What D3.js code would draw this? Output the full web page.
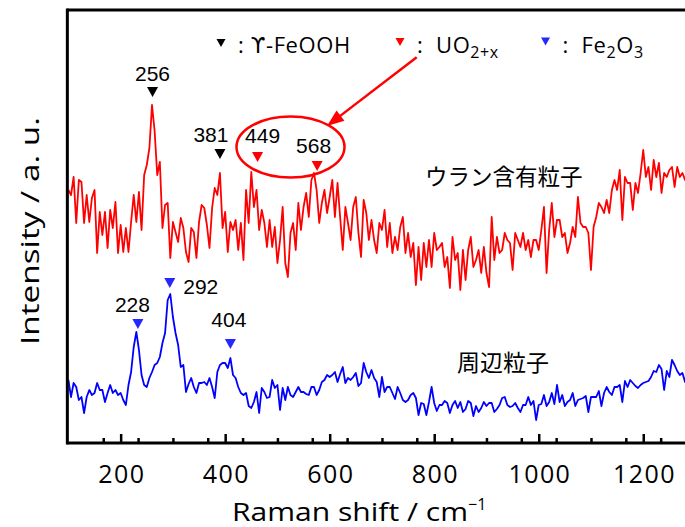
<!DOCTYPE html>
<html>
<head>
<meta charset="utf-8">
<script src="https://cdn.jsdelivr.net/npm/d3@7"></script>
<style>
  html, body { margin: 0; padding: 0; background: #fff; overflow: hidden; }
  svg { display: block; }
</style>
</head>
<body>
<svg id="chart" width="685" height="527"></svg>
<script>
// Raman shift grid (cm-1)
const shifts = [
  100,105,110,115,120,125,130,135,140,145,150,155,160,165,170,175,180,185,190,195,
  200,205,210,215,220,225,230,235,240,245,250,255,260,265,270,275,280,285,290,295,
  300,305,310,315,320,325,330,335,340,345,350,355,360,365,370,375,380,385,390,395,
  400,405,410,415,420,425,430,435,440,445,450,455,460,465,470,475,480,485,490,495,
  500,505,510,515,520,525,530,535,540,545,550,555,560,565,570,575,580,585,590,595,
  600,605,610,615,620,625,630,635,640,645,650,655,660,665,670,675,680,685,690,695,
  700,705,710,715,720,725,730,735,740,745,750,755,760,765,770,775,780,785,790,795,
  800,805,810,815,820,825,830,835,840,845,850,855,860,865,870,875,880,885,890,895,
  900,905,910,915,920,925,930,935,940,945,950,955,960,965,970,975,980,985,990,995,
  1000,1005,1010,1015,1020,1025,1030,1035,1040,1045,1050,1055,1060,1065,1070,1075,1080,1085,1090,1095,
  1100,1105,1110,1115,1120,1125,1130,1135,1140,1145,1150,1155,1160,1165,1170,1175,1180,1185,1190,1195,
  1200,1205,1210,1215,1220,1225,1230,1235,1240,1245,1250,1255,1260,1265,1270,1275,1280,1285
];

// ウラン含有粒子 (uranium-bearing particle), a.u.
const uraniumParticle = [
  253,248,266,220,263,261,220,248,221,245,
  253,190,231,208,231,195,233,215,241,190,
  218,191,215,191,221,248,221,251,213,268,
  278,295,338,312,268,281,215,238,240,185,
  221,211,201,225,215,191,181,215,211,185,
  221,238,235,218,195,235,255,248,270,215,
  231,191,221,213,223,193,220,183,253,220,
  271,236,253,213,233,220,196,223,196,216,
  180,203,236,180,166,210,220,193,240,213,
  236,250,226,263,270,253,220,240,253,230,
  246,263,226,260,226,193,236,220,203,236,
  246,210,186,243,230,203,223,203,190,220,
  213,233,196,220,190,206,193,216,226,190,
  210,186,200,158,196,163,200,176,203,176,
  210,193,196,200,176,186,155,206,183,190,
  153,193,163,193,206,176,183,193,170,196,
  170,156,226,183,206,190,193,210,203,200,
  173,210,203,196,210,193,203,186,203,203,
  193,213,236,170,213,240,206,223,223,206,
  210,190,200,216,206,246,220,216,216,210,
  173,216,226,240,236,230,243,230,253,263,
  253,273,223,266,260,260,233,260,250,270,
  293,266,276,253,283,266,280,250,270,266,
  273,276,256,276,266,270,263,266
];

// 周辺粒子 (surrounding particle), a.u.
const surroundingParticle = [
  63,46,60,56,43,46,30,46,53,48,
  50,60,53,53,41,50,58,50,53,48,
  50,43,38,58,71,96,111,93,68,58,
  56,65,71,78,80,86,100,110,143,149,
  126,110,98,76,78,51,59,65,56,50,
  60,60,61,58,65,56,45,71,78,80,
  80,75,85,68,65,56,50,48,50,37,
  35,41,51,30,55,51,45,46,63,55,
  58,33,55,43,56,48,46,51,56,51,
  51,49,48,56,56,48,53,61,63,68,
  66,68,71,61,69,76,60,65,63,66,
  70,57,60,80,71,65,73,65,61,46,
  66,51,56,56,50,44,56,50,43,41,
  43,48,50,45,28,40,39,28,41,56,
  40,32,38,38,42,40,30,38,42,35,
  41,31,34,42,40,27,37,31,35,41,
  37,40,40,31,34,38,45,46,38,36,
  37,40,35,31,38,38,46,38,42,23,
  38,39,48,37,41,50,39,58,41,48,
  37,41,43,50,37,43,44,45,47,31,
  46,46,46,52,37,50,56,51,48,56,
  56,58,41,62,56,63,60,57,55,58,
  60,61,62,66,72,71,78,74,53,72,
  66,83,78,72,68,70,61,73
];

const majorTicks = [200, 400, 600, 800, 1000, 1200];

// peak markers
const peakLabels  = ['256', '381', '449', '568', '228', '292', '404'];
const peakShifts  = [261, 390, 462, 576, 233, 294, 410];
const peakHeights = [351, 289, 286, 277, 119, 160, 99];
const peakPhases  = ['feooh', 'feooh', 'uo2', 'uo2', 'fe2o3', 'fe2o3', 'fe2o3'];

const phaseColor = { feooh: '#000000', uo2: '#ff0000', fe2o3: '#2626ff' };
// label offsets from marker centre
const labelDx = [0, -9, 5, -3.5, -5.5, 31, -1.5];
const labelDy = [-11, -12, -14, -13, -12, 11, -17];

const svg = d3.select('#chart');
const W = 685, H = 527;
const plotTop = 10, plotBottom = 443;

const x = d3.scaleLinear().domain([98, 1300]).range([67.35, 695.5]);
const y = d3.scaleLinear().domain([0, 433]).range([plotBottom, plotTop]);

const latin = '"Open Sans", "DejaVu Sans", sans-serif';
const cjk = '"Noto Sans CJK JP", sans-serif';

// spectra
const line = d3.line().x(d => x(d[0])).y(d => y(d[1]));
svg.append('path')
  .datum(d3.zip(shifts, uraniumParticle))
  .attr('d', line)
  .attr('fill', 'none')
  .attr('stroke', '#ff0000')
  .attr('stroke-width', 1.8)
  .attr('stroke-linejoin', 'round');

svg.append('path')
  .datum(d3.zip(shifts, surroundingParticle))
  .attr('d', line)
  .attr('fill', 'none')
  .attr('stroke', '#0000ff')
  .attr('stroke-width', 1.8)
  .attr('stroke-linejoin', 'round');

// x axis, ticks inside
const minorTicks = d3.range(100, 1300, 200 / 3).filter(v => v > 101 && Math.abs(v % 200) > 1 && Math.abs(v % 200 - 200) > 1);

svg.append('g')
  .attr('transform', `translate(0,${plotBottom})`)
  .call(d3.axisBottom(x).tickValues(minorTicks).tickSize(-5).tickFormat(''))
  .call(g => g.select('.domain').remove())
  .call(g => g.selectAll('line').attr('stroke', '#000').attr('stroke-width', 2.5));

svg.append('g')
  .attr('transform', `translate(0,${plotBottom})`)
  .call(d3.axisBottom(x).tickValues(majorTicks).tickSize(-9).tickPadding(22).tickFormat(d3.format('d')))
  .call(g => g.select('.domain').remove())
  .call(g => g.selectAll('line').attr('stroke', '#000').attr('stroke-width', 2.5))
  .call(g => g.selectAll('text')
    .attr('fill', '#000')
    .attr('dx', 0.7)
    .style('font-family', latin)
    .style('font-size', '25px')
    .style('letter-spacing', '1.4px'));

// frame
const frame = svg.append('g').attr('stroke', '#000').attr('stroke-width', 3).attr('fill', 'none');
frame.append('line').attr('x1', x(98)).attr('x2', x(98)).attr('y1', plotTop - 1.5).attr('y2', plotBottom + 1.5);
frame.append('line').attr('x1', x(98)).attr('x2', W + 10).attr('y1', plotTop).attr('y2', plotTop);
frame.append('line').attr('x1', x(98)).attr('x2', W + 10).attr('y1', plotBottom).attr('y2', plotBottom);

// axis titles
const xt = svg.append('text')
  .attr('x', 232).attr('y', 521)
  .attr('fill', '#000')
  .style('font-family', latin)
  .style('font-size', '25px');
xt.append('tspan').attr('textLength', 236).attr('lengthAdjust', 'spacingAndGlyphs').text('Raman shift / cm');
xt.append('tspan').attr('dy', -11).style('font-size', '16px').text('\u22121');

svg.append('text')
  .attr('transform', 'translate(39,231) rotate(-90)')
  .attr('text-anchor', 'middle')
  .attr('textLength', 228).attr('lengthAdjust', 'spacingAndGlyphs')
  .attr('fill', '#000')
  .style('font-family', latin)
  .style('font-size', '25px')
  .text('Intensity / a. u.');

// peak markers and labels
const tri = (w, h) => `M${-w / 2},${-h / 2}L${w / 2},${-h / 2}L0,${h / 2}Z`;
const peaks = d3.range(peakLabels.length);
svg.append('g').selectAll('path')
  .data(peaks).join('path')
  .attr('transform', i => `translate(${x(peakShifts[i])},${y(peakHeights[i])})`)
  .attr('d', tri(11, 10))
  .attr('fill', i => phaseColor[peakPhases[i]]);

svg.append('g').selectAll('text')
  .data(peaks).join('text')
  .attr('x', i => x(peakShifts[i]) + labelDx[i])
  .attr('y', i => y(peakHeights[i]) + labelDy[i])
  .attr('text-anchor', 'middle')
  .attr('fill', '#000')
  .style('font-family', '"Liberation Sans", Arial, sans-serif')
  .style('font-size', '21px')
  .text(i => peakLabels[i]);

// legend: [text, subscript?, font]
const legend = [
  { key: 'feooh', tx: 221, ty: 43, parts: [[': ', 0], ['\u03D2', 0, '"DejaVu Sans", sans-serif'], ['-FeOOH', 0]] },
  { key: 'uo2', tx: 400, ty: 42, parts: [[':  UO', 0], ['2+x', 1]] },
  { key: 'fe2o3', tx: 545.5, ty: 41.5, parts: [[':  Fe', 0], ['2', 1], ['O', 0], ['3', 1]] }
];
legend.forEach(item => {
  svg.append('path')
    .attr('transform', `translate(${item.tx},${item.ty})`)
    .attr('d', tri(9, 8))
    .attr('fill', phaseColor[item.key]);
  const t = svg.append('text')
    .attr('x', item.tx + 17).attr('y', 53.3)
    .attr('fill', '#000')
    .attr('xml:space', 'preserve')
    .style('white-space', 'pre')
    .style('font-family', latin)
    .style('font-size', '22px')
    .style('letter-spacing', '0.6px');
  let sub = 0;
  item.parts.forEach(([s, isSub, font]) => {
    const dy = isSub ? (sub ? 0 : 5) : (sub ? -5 : 0);
    sub = isSub;
    const ts = t.append('tspan').attr('dy', dy).style('font-size', isSub ? '16px' : '22px').text(s);
    if (font) ts.style('font-family', font).style('font-size', '21px');
  });
});

// sample names
svg.append('text')
  .attr('x', 425).attr('y', 185)
  .attr('fill', '#000')
  .style('font-family', cjk)
  .style('font-size', '22.5px')
  .text('ウラン含有粒子');

svg.append('text')
  .attr('x', 457).attr('y', 371)
  .attr('fill', '#000')
  .style('font-family', cjk)
  .style('font-size', '23px')
  .text('周辺粒子');

// highlight ellipse around UO2+x peaks with arrow from the legend
svg.append('ellipse')
  .attr('cx', x(525)).attr('cy', y(296))
  .attr('rx', 54).attr('ry', 30.5)
  .attr('fill', 'none')
  .attr('stroke', '#ff0000')
  .attr('stroke-width', 2.5);

const a0 = [416.7, 57.3], a1 = [327, 126];
const len = Math.hypot(a1[0] - a0[0], a1[1] - a0[1]);
const ux = (a1[0] - a0[0]) / len, uy = (a1[1] - a0[1]) / len;
const hl = 17, hw = 6.5;
const bx = a1[0] - ux * hl, by = a1[1] - uy * hl;
svg.append('line')
  .attr('x1', a0[0]).attr('y1', a0[1]).attr('x2', bx + ux * 2).attr('y2', by + uy * 2)
  .attr('stroke', '#ff0000').attr('stroke-width', 2.5);
svg.append('path')
  .attr('d', `M${a1[0]},${a1[1]}L${bx - uy * hw},${by + ux * hw}L${bx + uy * hw},${by - ux * hw}Z`)
  .attr('fill', '#ff0000');
</script>
</body>
</html>
